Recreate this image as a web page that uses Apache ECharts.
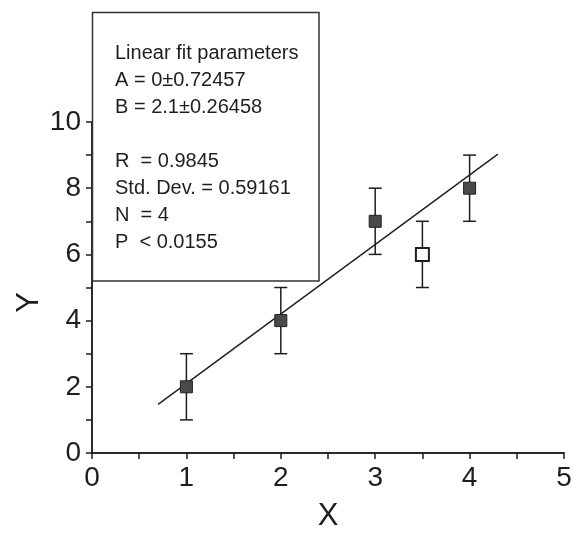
<!DOCTYPE html>
<html>
<head>
<meta charset="utf-8">
<script src="https://cdn.jsdelivr.net/npm/echarts@6/dist/echarts.min.js"></script>
<style>
  html, body { margin: 0; padding: 0; background: #fff; }
  #chart { width: 576px; height: 533px; }
</style>
</head>
<body>
<div id="chart"></div>
<script>
// measured points (filled squares)
const pointX = [1, 2, 3, 4];
const pointY = [2, 4, 7, 8];
const pointErr = [1, 1, 1, 1];

// excluded point (open square)
const openX = [3.5];
const openY = [6];
const openErr = [1];

// fitted line end points
const fitX = [0.7, 4.3];
const fitY = [1.47, 9.03];

const fitText = [
  "Linear fit parameters",
  "A = 0\u00b10.72457",
  "B = 2.1\u00b10.26458",
  "",
  "R  = 0.9845",
  "Std. Dev. = 0.59161",
  "N  = 4",
  "P  < 0.0155",
];

const font = "Liberation Sans, Arial, sans-serif";
const ink = "#1e1e1e";

function errorData(xs, ys, errs) {
  return xs.map((x, i) => [x, ys[i] - errs[i], ys[i] + errs[i]]);
}

function renderErrorBar(params, api) {
  const x = api.value(0);
  const low = api.coord([x, api.value(1)]);
  const high = api.coord([x, api.value(2)]);
  const half = 6.5;
  const style = { stroke: ink, lineWidth: 1.5 };
  return {
    type: "group",
    children: [
      { type: "line", shape: { x1: low[0], y1: low[1], x2: high[0], y2: high[1] }, style: style },
      { type: "line", shape: { x1: low[0] - half, y1: low[1], x2: low[0] + half, y2: low[1] }, style: style },
      { type: "line", shape: { x1: high[0] - half, y1: high[1], x2: high[0] + half, y2: high[1] }, style: style },
    ],
  };
}

const chart = echarts.init(document.getElementById("chart"));

const axisLine = { show: true, lineStyle: { color: ink, width: 1.5 } };

const option = {
  animation: false,
  grid: { left: 92, right: 12, top: 122, bottom: 80, outerBoundsMode: "none" },
  xAxis: [
    {
      type: "value",
      min: 0,
      max: 5,
      interval: 1,
      name: "X",
      nameLocation: "middle",
      nameGap: 48,
      nameMoveOverlap: false,
      nameTextStyle: { fontFamily: font, fontSize: 31, color: ink },
      axisLine: axisLine,
      axisTick: { show: true, inside: false, length: 6, lineStyle: { color: ink, width: 1.5 } },
      minorTick: { show: true, splitNumber: 2, length: 4, lineStyle: { color: ink, width: 1.5 } },
      axisLabel: { fontFamily: font, fontSize: 28, color: ink, margin: 11 },
      splitLine: { show: false },
    },
    {
      type: "value",
      position: "top",
      min: 0,
      max: 5,
      interval: 0.5,
      axisLine: axisLine,
      axisTick: { show: true, inside: true, length: 6, lineStyle: { color: ink, width: 1.5 } },
      axisLabel: { show: false },
      splitLine: { show: false },
    },
  ],
  yAxis: [
    {
      type: "value",
      min: 0,
      max: 10,
      interval: 2,
      name: "Y",
      nameLocation: "middle",
      nameGap: 47,
      nameMoveOverlap: false,
      nameTextStyle: { fontFamily: font, fontSize: 31, color: ink, padding: [0, 30, 0, 0] },
      axisLine: axisLine,
      axisTick: { show: true, inside: false, length: 6, lineStyle: { color: ink, width: 1.5 } },
      minorTick: { show: true, splitNumber: 2, length: 4, lineStyle: { color: ink, width: 1.5 } },
      axisLabel: { fontFamily: font, fontSize: 28, color: ink, margin: 11 },
      splitLine: { show: false },
    },
    {
      type: "value",
      position: "right",
      min: 0,
      max: 10,
      interval: 1,
      axisLine: axisLine,
      axisTick: { show: true, inside: true, length: 6, lineStyle: { color: ink, width: 1.5 } },
      axisLabel: { show: false },
      splitLine: { show: false },
    },
  ],
  series: [
    {
      type: "line",
      data: fitX.map((x, i) => [x, fitY[i]]),
      showSymbol: false,
      lineStyle: { color: ink, width: 1.4 },
      z: 1,
    },
    {
      type: "custom",
      renderItem: renderErrorBar,
      data: errorData(pointX, pointY, pointErr).concat(errorData(openX, openY, openErr)),
      z: 2,
    },
    {
      type: "scatter",
      data: pointX.map((x, i) => [x, pointY[i]]),
      symbol: "rect",
      symbolSize: 12,
      itemStyle: { color: "#4a4a4a", borderColor: "#222", borderWidth: 1, opacity: 1 },
      z: 3,
    },
    {
      type: "scatter",
      data: openX.map((x, i) => [x, openY[i]]),
      symbol: "rect",
      symbolSize: 13,
      itemStyle: { color: "#fff", borderColor: ink, borderWidth: 2, opacity: 1 },
      z: 3,
    },
  ],
  graphic: [
    {
      type: "rect",
      z: 100,
      shape: { x: 92.5, y: 12.5, width: 226.5, height: 268.5 },
      style: { fill: "#fff", stroke: "#333", lineWidth: 1.5 },
    },
    {
      type: "text",
      z: 101,
      left: 115,
      top: 40,
      style: {
        text: fitText.join("\n"),
        font: "20px " + font,
        fill: ink,
        lineHeight: 27,
      },
    },
  ],
};

chart.setOption(option);
</script>
</body>
</html>
